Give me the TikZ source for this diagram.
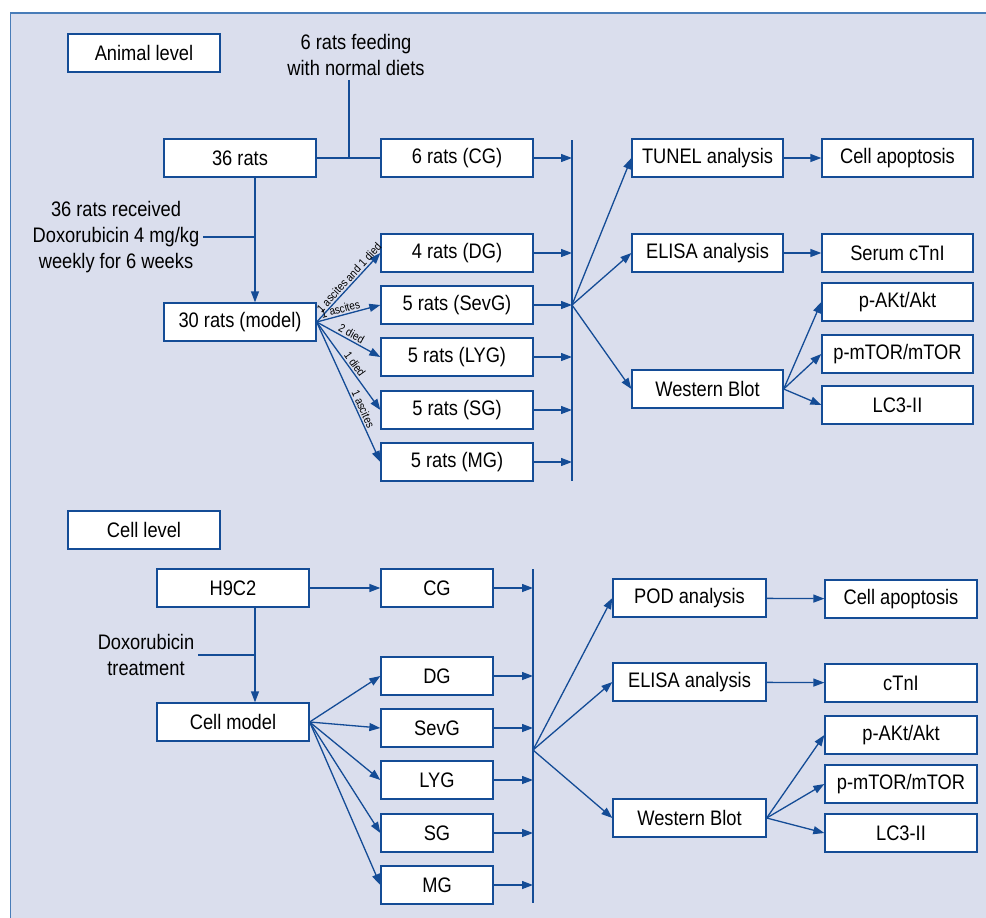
\documentclass[tikz,border=0pt]{standalone}
\usepackage{fontspec}
\setmainfont{Liberation Sans}[FakeStretch=0.87]
\usetikzlibrary{arrows.meta}

\definecolor{panelbg}{RGB}{218,222,237}
\definecolor{lineblue}{RGB}{20,76,150}
\definecolor{rimblue}{RGB}{72,124,184}

\tikzset{
	box/.style={draw=lineblue, fill=white, line width=1.3pt, minimum width=152pt, minimum height=38pt, inner sep=0pt},
	sbox/.style={box, minimum width=112pt},
	note/.style={align=center, inner sep=4pt},
	tag/.style={font=\fontsize{11.5}{13}\selectfont, sloped, above, inner sep=1.5pt},
	link/.style={draw=lineblue, line width=1.3pt},
	arr/.style={link, -{Triangle[length=11pt,width=8pt]}},
	flow/.style={every edge/.style={arr}}
}

\begin{document}
\begin{tikzpicture}[x=1pt, y=-1pt, font=\fontsize{21}{26}\selectfont]
	\useasboundingbox (0,0) rectangle (986,918);
	\fill[panelbg] (10,13) rectangle (986,918);
	\draw[rimblue, line width=2pt] (10,13) -- (986,13);
	\draw[rimblue, line width=1pt] (10,13) -- (10,918);

	% animal level
	\node[box] (animal) at (144,53) {Animal level};
	\node[note] (feed) at (356,55) {6 rats feeding\\with normal diets};
	\node[box] (rats36) at (240,158) {36 rats};
	\node[note] (received) at (116,237) {36 rats received\\Doxorubicin 4 mg/kg\\weekly for 6 weeks};
	\node[box] (model) at (240,322) {30 rats (model)};

	\node[box] (cg) at (457,158) {6 rats (CG)};
	\node[box] (dg) at (457,253) {4 rats (DG)};
	\node[box] (sevg) at (457,305) {5 rats (SevG)};
	\node[box] (lyg) at (457,357) {5 rats (LYG)};
	\node[box] (sg) at (457,410) {5 rats (SG)};
	\node[box] (mg) at (457,462) {5 rats (MG)};

	\node[box, minimum width=151pt] (tunel) at (707.5,158) {TUNEL analysis};
	\node[box, minimum width=151pt] (elisa) at (707.5,253) {ELISA analysis};
	\node[box, minimum width=151pt] (wb) at (707.5,389) {Western Blot};

	\node[box, minimum width=151pt] (apop) at (897.5,158) {Cell apoptosis};
	\node[box, minimum width=151pt] (serum) at (897.5,253) {Serum cTnI};
	\node[box, minimum width=151pt] (pakt) at (897.5,302) {p-AKt/Akt};
	\node[box, minimum width=151pt] (pmtor) at (897.5,354) {p-mTOR/mTOR};
	\node[box, minimum width=151pt] (lc) at (897.5,405) {LC3-II};

	\coordinate (feedj) at (349,158);
	\coordinate (drop) at (255,237);
	\coordinate (bartop) at (572,140);
	\coordinate (barbot) at (572,481);
	\coordinate (hub) at (572,305);

	\draw[link] (rats36) -- (cg);
	\draw[link] (feed.south -| feedj) -- (feedj);
	\draw[link] (received) -- (drop);
	\draw[arr] (rats36.south -| drop) -- (model.north -| drop);
	\draw[link] (bartop) -- (barbot);

	\path[flow]
	(model.east) edge node[tag, pos=0.58] {1 ascites and 1 died} (dg.west)
	             edge node[tag, pos=0.4] {1 ascites} (sevg.west)
	             edge node[tag, pos=0.5] {2 died} (lyg.west)
	             edge node[tag, pos=0.52] {1 died} (sg.west)
	             edge node[tag, pos=0.64] {1 ascites} (mg.west)
	(cg) edge (cg -| hub)
	(dg) edge (dg -| hub)
	(sevg) edge (sevg -| hub)
	(lyg) edge (lyg -| hub)
	(sg) edge (sg -| hub)
	(mg) edge (mg -| hub)
	(hub) edge (tunel.west)
	      edge (elisa.west)
	      edge (wb.west)
	(tunel) edge (apop)
	(elisa) edge (serum)
	(wb.east) edge (pakt.west)
	          edge (pmtor.west)
	          edge (lc.west);

	% cell level
	\node[box] (cell) at (144,530) {Cell level};
	\node[box] (h9c2) at (233,588) {H9C2};
	\node[note] (doxo) at (146,655) {Doxorubicin\\treatment};
	\node[box] (cmodel) at (233,722) {Cell model};

	\node[sbox] (cg2) at (437,588) {CG};
	\node[sbox] (dg2) at (437,676) {DG};
	\node[sbox] (sevg2) at (437,728) {SevG};
	\node[sbox] (lyg2) at (437,780) {LYG};
	\node[sbox] (sg2) at (437,833) {SG};
	\node[sbox] (mg2) at (437,885) {MG};

	\node[box, minimum width=153pt] (pod) at (689.5,598) {POD analysis};
	\node[box, minimum width=153pt] (elisa2) at (689.5,682) {ELISA analysis};
	\node[box, minimum width=153pt] (wb2) at (689.5,818) {Western Blot};

	\node[box] (apop2) at (901,599) {Cell apoptosis};
	\node[box] (ctni) at (901,683) {cTnI};
	\node[box] (pakt2) at (901,735) {p-AKt/Akt};
	\node[box] (pmtor2) at (901,784) {p-mTOR/mTOR};
	\node[box] (lc2) at (901,833) {LC3-II};

	\coordinate (drop2) at (255,655);
	\coordinate (bartop2) at (533,569);
	\coordinate (barbot2) at (533,903);
	\coordinate (hub2) at (533,750);

	\draw[link] (doxo) -- (drop2);
	\draw[arr] (h9c2.south -| drop2) -- (cmodel.north -| drop2);
	\draw[link] (bartop2) -- (barbot2);

	\path[flow]
	(h9c2) edge (cg2)
	(cmodel.east) edge (dg2.west)
	              edge (sevg2.west)
	              edge (lyg2.west)
	              edge (sg2.west)
	              edge (mg2.west)
	(cg2) edge (cg2 -| hub2)
	(dg2) edge (dg2 -| hub2)
	(sevg2) edge (sevg2 -| hub2)
	(lyg2) edge (lyg2 -| hub2)
	(sg2) edge (sg2 -| hub2)
	(mg2) edge (mg2 -| hub2)
	(hub2) edge (pod.west)
	       edge (elisa2.west)
	       edge (wb2.west)
	(pod) edge (apop2)
	(elisa2) edge (ctni)
	(wb2.east) edge (pakt2.west)
	           edge (pmtor2.west)
	           edge (lc2.west);
\end{tikzpicture}
\end{document}
